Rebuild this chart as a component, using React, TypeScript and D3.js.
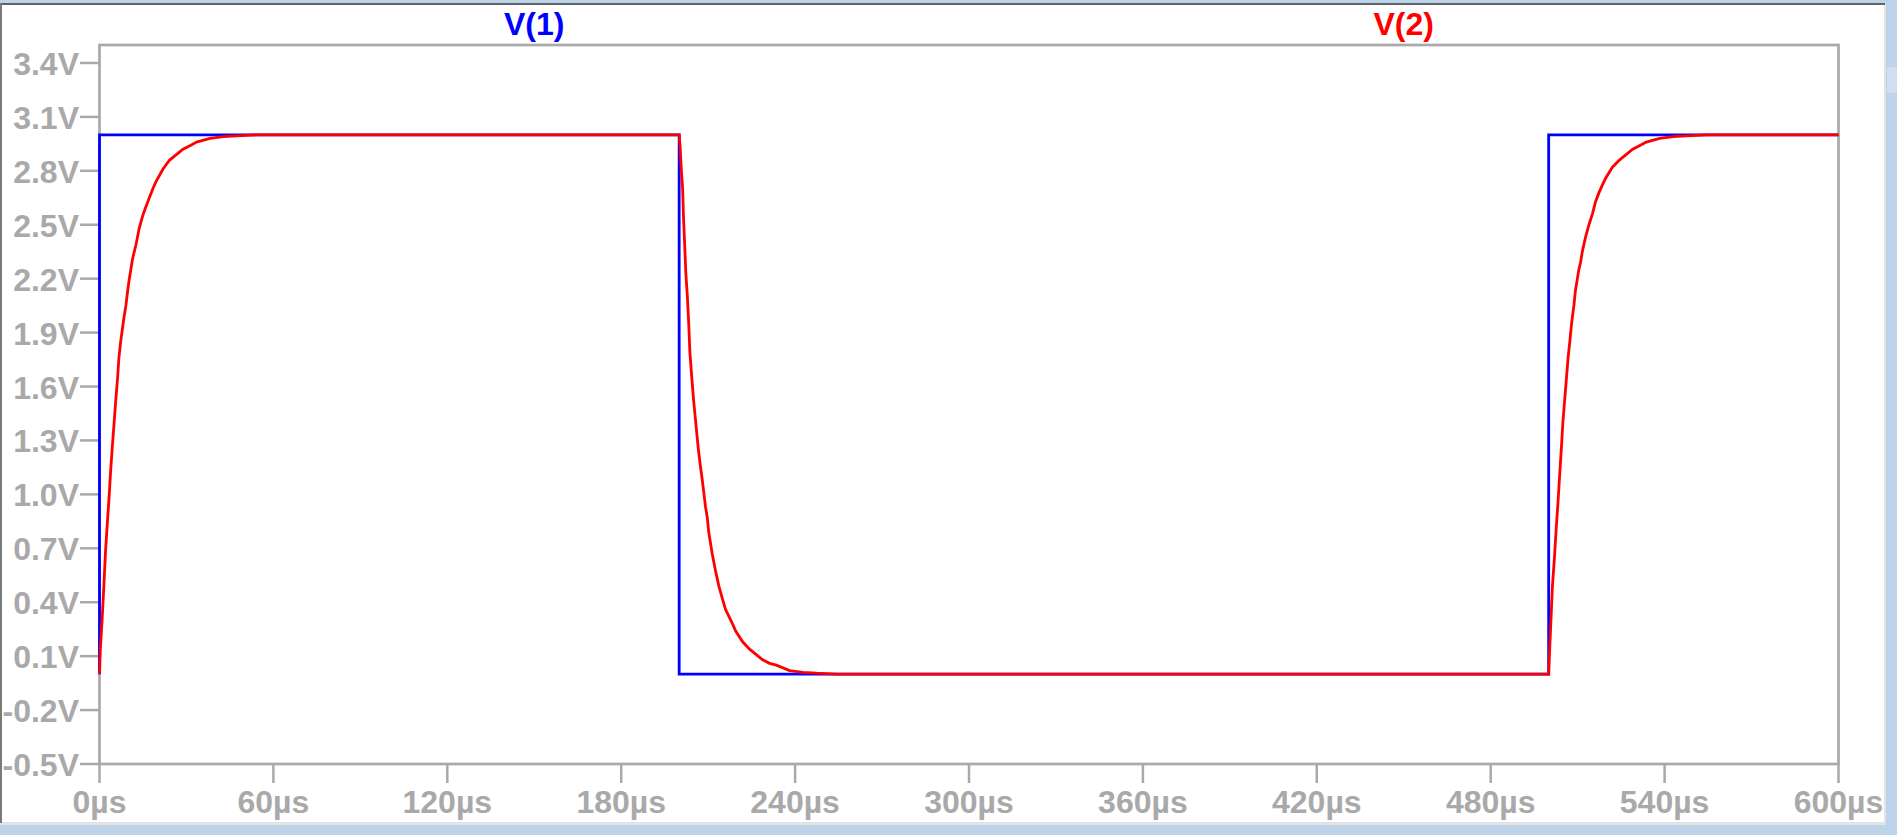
import React from "react";
import * as d3 from "d3";

// ---- data (time in µs, voltage in V) ----
const v1Time = [0, 0, 200, 200, 500, 500, 600];
const v1Volt = [0, 3, 3, 0, 0, 3, 3];

const v2RiseATime = [0, 0.3, 0.9, 1.5, 2.1, 2.7, 3.3, 3.8, 4.4, 5.0, 5.6, 6.2, 6.7, 7.3, 7.9, 8.5, 9.1, 9.7, 10.2, 10.8, 11.4, 12.6, 13.7, 14.9, 16.0, 17.2, 18.4, 19.5, 21.9, 24.2, 26.5, 28.8, 31.2, 33.5, 38.1, 42.8, 47.4, 54.4];
const v2RiseAVolt = [0, 0.14, 0.30, 0.49, 0.69, 0.84, 0.98, 1.12, 1.26, 1.39, 1.52, 1.64, 1.76, 1.85, 1.92, 1.99, 2.05, 2.13, 2.19, 2.25, 2.31, 2.39, 2.48, 2.55, 2.60, 2.65, 2.70, 2.74, 2.81, 2.86, 2.89, 2.92, 2.94, 2.96, 2.98, 2.99, 2.995, 3.0];

const v2FallTime = [200, 200.3, 200.7, 201.2, 201.5, 201.9, 202.3, 202.8, 203.3, 203.7, 204.4, 205.0, 205.6, 206.2, 206.7, 207.3, 207.9, 208.5, 209.1, 209.7, 210.2, 211.4, 212.6, 213.7, 214.9, 216.0, 217.2, 218.4, 219.5, 221.9, 224.2, 226.5, 228.8, 231.2, 233.5, 238.1, 242.8, 247.4, 254.4];
const v2FallVolt = [3.0, 2.94, 2.82, 2.70, 2.54, 2.39, 2.23, 2.11, 1.95, 1.79, 1.64, 1.52, 1.42, 1.32, 1.24, 1.16, 1.09, 1.01, 0.93, 0.87, 0.79, 0.67, 0.57, 0.49, 0.42, 0.36, 0.32, 0.28, 0.24, 0.18, 0.14, 0.11, 0.08, 0.06, 0.05, 0.02, 0.01, 0.005, 0];

const v2RiseBTime = [500.0, 500.3, 500.9, 501.3, 502.0, 502.6, 503.2, 503.8, 504.4, 504.9, 505.5, 506.1, 506.7, 507.3, 507.9, 508.7, 509.2, 509.8, 510.4, 511.0, 511.6, 512.7, 513.9, 515.1, 516.2, 517.4, 518.5, 519.7, 522.0, 524.4, 526.7, 529.0, 531.3, 533.7, 538.3, 543.0, 547.6, 554.6];
const v2RiseBVolt = [0, 0.12, 0.34, 0.49, 0.65, 0.81, 0.95, 1.11, 1.26, 1.40, 1.52, 1.64, 1.76, 1.85, 1.95, 2.05, 2.13, 2.19, 2.25, 2.29, 2.35, 2.43, 2.50, 2.56, 2.63, 2.68, 2.72, 2.76, 2.82, 2.86, 2.89, 2.92, 2.94, 2.96, 2.98, 2.99, 2.995, 3.0];

const v2EndTime = [600];
const v2EndVolt = [3.0];

const yTicks = [-0.5, -0.2, 0.1, 0.4, 0.7, 1.0, 1.3, 1.6, 1.9, 2.2, 2.5, 2.8, 3.1, 3.4];
const xTicks = [0, 60, 120, 180, 240, 300, 360, 420, 480, 540, 600];
const traceNames = ["V(1)", "V(2)"];
const traceColors = ["#0000ff", "#ff0000"];

const W = 1897;
const H = 835;
const left = 99.5;
const right = 1838.5;
const top = 45;
const bottom = 764;
const GRAY = "#a9a9a9";
const FONT = "'Liberation Sans', Arial, sans-serif";

export default function App() {
  const x = d3.scaleLinear().domain([0, 600]).range([left, right]);
  const y = d3.scaleLinear().domain([-0.5, 3.5]).range([bottom, top]);

  const v1 = v1Time.map((t, i) => [t, v1Volt[i]] as [number, number]);
  const v2T = [...v2RiseATime, ...v2FallTime, ...v2RiseBTime, ...v2EndTime];
  const v2V = [...v2RiseAVolt, ...v2FallVolt, ...v2RiseBVolt, ...v2EndVolt];
  const v2 = v2T.map((t, i) => [t, v2V[i]] as [number, number]);

  const line = d3
    .line<[number, number]>()
    .x((d) => x(d[0]))
    .y((d) => y(d[1]));

  const plotW = right - left;
  const labelX = [left + plotW / 4, left + (3 * plotW) / 4];

  return (
    <svg
      width={W}
      height={H}
      style={{ position: "fixed", left: 0, top: 0, display: "block" }}
    >
      {/* window chrome */}
      <rect x={0} y={0} width={W} height={H} fill="#bcd3ea" />
      <rect x={1887} y={67} width={10} height={26} fill="#cfdff1" />
      <rect x={0} y={3} width={1886} height={822} fill="#e3e3e3" />
      <rect x={0} y={3} width={1885} height={2} fill="#646464" />
      <rect x={0} y={3} width={2} height={820} fill="#7a7a7a" />
      <rect x={2} y={5} width={1882} height={817} fill="#ffffff" />

      {/* trace labels */}
      {traceNames.map((n, i) => (
        <text
          key={n}
          x={labelX[i]}
          y={35}
          textAnchor="middle"
          fontFamily={FONT}
          fontWeight="bold"
          fontSize={32}
          fill={traceColors[i]}
        >
          {n}
        </text>
      ))}

      {/* y ticks */}
      {yTicks.map((v) => (
        <g key={"y" + v}>
          <line x1={80} x2={left} y1={y(v)} y2={y(v)} stroke={GRAY} strokeWidth={2.5} />
          <text
            x={79}
            y={y(v) + 12}
            textAnchor="end"
            fontFamily={FONT}
            fontWeight="bold"
            fontSize={32}
            fill={GRAY}
          >
            {v.toFixed(1) + "V"}
          </text>
        </g>
      ))}

      {/* x ticks */}
      {xTicks.map((t) => (
        <g key={"x" + t}>
          <line x1={x(t)} x2={x(t)} y1={bottom} y2={783} stroke={GRAY} strokeWidth={2.5} />
          <text
            x={x(t)}
            y={813}
            textAnchor="middle"
            fontFamily={FONT}
            fontWeight="bold"
            fontSize={32}
            fill={GRAY}
          >
            {t + "µs"}
          </text>
        </g>
      ))}

      {/* frame */}
      <rect
        x={left}
        y={top}
        width={plotW}
        height={bottom - top}
        fill="none"
        stroke={GRAY}
        strokeWidth={2.7}
      />

      {/* traces */}
      <path d={line(v1) || ""} fill="none" stroke={traceColors[0]} strokeWidth={2.8} />
      <path d={line(v2) || ""} fill="none" stroke={traceColors[1]} strokeWidth={2.8} />
    </svg>
  );
}
